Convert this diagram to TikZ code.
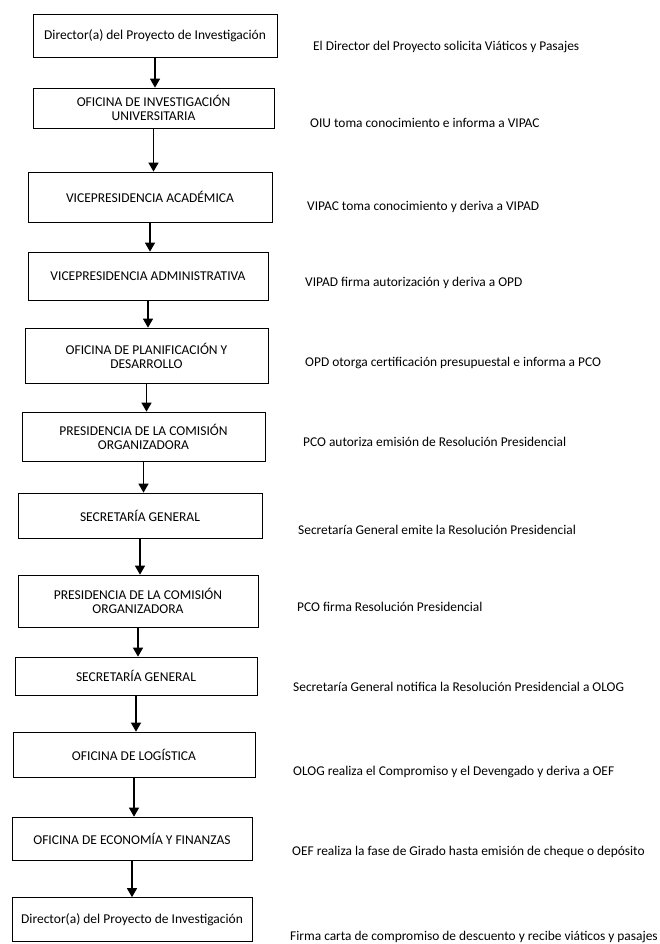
\documentclass[tikz,border=0pt]{standalone}
\usepackage{fontspec}
\setmainfont{Carlito}
\usetikzlibrary{arrows.meta}
\begin{document}
\begin{tikzpicture}[x=1pt,y=-1pt,
  box/.style={draw,line width=0.7pt,inner sep=2pt,align=center,font=\fontsize{13.5}{14}\selectfont},
  lbl/.style={anchor=west,inner sep=0pt,font=\fontsize{13.4}{15}\selectfont},
  flow/.style={line width=1.3pt,-{Triangle[width=10pt,length=9pt]}}]
\useasboundingbox (0,0) rectangle (660,944);
\fill[white] (0,0) rectangle (660,944);
% boxes
\node[box,minimum width=244pt,minimum height=43pt] (b1) at (155,35.5) {Director(a) del Proyecto de Investigación};
\node[box,minimum width=241pt,minimum height=40pt] (b2) at (153.5,108) {OFICINA DE INVESTIGACIÓN\\UNIVERSITARIA};
\node[box,minimum width=244pt,minimum height=50pt] (b3) at (150,197) {VICEPRESIDENCIA ACADÉMICA};
\node[box,minimum width=240pt,minimum height=48pt] (b4) at (148,276) {VICEPRESIDENCIA ADMINISTRATIVA};
\node[box,minimum width=243pt,minimum height=55pt] (b5) at (146.5,355.5) {OFICINA DE PLANIFICACIÓN Y\\DESARROLLO};
\node[box,minimum width=243pt,minimum height=49pt] (b6) at (143.5,436.5) {PRESIDENCIA DE LA COMISIÓN\\ORGANIZADORA};
\node[box,minimum width=244pt,minimum height=45pt] (b7) at (140,515.5) {SECRETARÍA GENERAL};
\node[box,minimum width=240pt,minimum height=52pt] (b8) at (138,601) {PRESIDENCIA DE LA COMISIÓN\\ORGANIZADORA};
\node[box,minimum width=242pt,minimum height=38pt] (b9) at (136,676) {SECRETARÍA GENERAL};
\node[box,minimum width=242pt,minimum height=45pt] (b10) at (134,754.5) {OFICINA DE LOGÍSTICA};
\node[box,minimum width=240pt,minimum height=43pt] (b11) at (132,838.5) {OFICINA DE ECONOMÍA Y FINANZAS};
\node[box,minimum width=240pt,minimum height=44pt] (b12) at (132,919.5) {Director(a) del Proyecto de Investigación};
% arrows
\foreach \a/\b in {b1/b2,b2/b3,b3/b4,b4/b5,b5/b6,b6/b7,b7/b8,b8/b9,b9/b10,b10/b11,b11/b12}
  \draw[flow] (\a.south) -- (\a.south |- \b.north);
% labels
\node[lbl] (l1) at (313,47) {El Director del Proyecto solicita Viáticos y Pasajes};
\node[lbl] (l2) at (310,123) {OIU toma conocimiento e informa a VIPAC};
\node[lbl] (l3) at (307,207) {VIPAC toma conocimiento y deriva a VIPAD};
\node[lbl] (l4) at (305,283) {VIPAD firma autorización y deriva a OPD};
\node[lbl] (l5) at (305,363) {OPD otorga certificación presupuestal e informa a PCO};
\node[lbl] (l6) at (303,442) {PCO autoriza emisión de Resolución Presidencial};
\node[lbl] (l7) at (298,530) {Secretaría General emite la Resolución Presidencial};
\node[lbl] (l8) at (297,607) {PCO firma Resolución Presidencial};
\node[lbl] (l9) at (293,687) {Secretaría General notifica la Resolución Presidencial a OLOG};
\node[lbl] (l10) at (293,772) {OLOG realiza el Compromiso y el Devengado y deriva a OEF};
\node[lbl] (l11) at (292,852) {OEF realiza la fase de Girado hasta emisión de cheque o depósito};
\node[lbl] (l12) at (290,937) {Firma carta de compromiso de descuento y recibe viáticos y pasajes};
\end{tikzpicture}
\end{document}
